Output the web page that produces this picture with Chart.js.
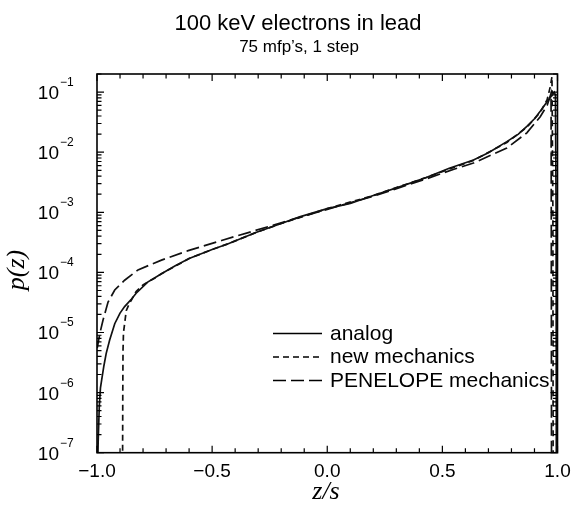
<!DOCTYPE html>
<html>
<head>
<meta charset="utf-8">
<script src="https://cdn.jsdelivr.net/npm/chart.js@4"></script>
<style>
  body { margin: 0; background: #fff; }
  canvas { display: block; }
</style>
</head>
<body>
<canvas id="grafico" width="572" height="506"></canvas>
<script>
// values
const seriesNames = ["analog", "new mechanics", "PENELOPE mechanics"];

const zAnalog = [-0.997, -0.995, -0.990, -0.985, -0.978, -0.970, -0.960, -0.945, -0.923, -0.900, -0.880, -0.850, -0.830, -0.780, -0.720, -0.660, -0.600, -0.500, -0.430, -0.310, -0.200, -0.120, 0.000, 0.100, 0.200, 0.320, 0.430, 0.530, 0.635, 0.700, 0.780, 0.830, 0.867, 0.900, 0.925, 0.950, 0.976, 0.986, 0.991, 0.994, 0.995];
const pAnalog = [5e-8, 1.5e-7, 6e-7, 1.2e-6, 1.8e-6, 2.8e-6, 4.5e-6, 7.5e-6, 1.4e-5, 2.1e-5, 2.7e-5, 3.6e-5, 4.5e-5, 6.9e-5, 9.5e-5, 1.29e-4, 1.7e-4, 2.4e-4, 3.0e-4, 4.6e-4, 6.5e-4, 8.4e-4, 1.15e-3, 1.4e-3, 1.9e-3, 2.7e-3, 3.8e-3, 5.4e-3, 7.4e-3, 9.8e-3, 1.5e-2, 2.0e-2, 2.7e-2, 3.6e-2, 4.8e-2, 6.5e-2, 8.9e-2, 1.0e-1, 9e-2, 1e-3, 5e-8];

const zNew = [-0.889, -0.888, -0.887, -0.885, -0.880, -0.873, -0.860, -0.850, -0.830, -0.800, -0.750, -0.720, -0.600, -0.500, -0.430, -0.310, -0.200, 0.000, 0.200, 0.430, 0.635, 0.780, 0.867, 0.925, 0.955, 0.968, 0.976, 0.980, 0.981];
const pNew = [5e-8, 1e-6, 5e-6, 1e-5, 1.4e-5, 2.3e-5, 3.0e-5, 3.5e-5, 4.8e-5, 6.2e-5, 8.0e-5, 9.5e-5, 1.7e-4, 2.4e-4, 3.0e-4, 4.6e-4, 6.5e-4, 1.15e-3, 1.9e-3, 3.8e-3, 7.3e-3, 1.45e-2, 2.6e-2, 4.6e-2, 7.5e-2, 1.2e-1, 1.8e-1, 1e-3, 5e-8];

const zPen = [-0.999, -0.988, -0.974, -0.952, -0.923, -0.880, -0.822, -0.720, -0.604, -0.459, -0.343, -0.200, 0.000, 0.200, 0.430, 0.550, 0.635, 0.780, 0.867, 0.925, 0.955, 0.972, 0.973, 0.974];
const pPen = [5.5e-6, 9.5e-6, 1.6e-5, 3.2e-5, 5.1e-5, 7.4e-5, 1.1e-4, 1.6e-4, 2.3e-4, 3.4e-4, 4.6e-4, 6.7e-4, 1.12e-3, 1.85e-3, 3.6e-3, 5.2e-3, 6.6e-3, 1.17e-2, 2.1e-2, 3.9e-2, 6.0e-2, 9.5e-2, 1e-3, 5e-8];

const xTickValues = [-1, -0.5, 0, 0.5, 1];
const xTickLabels = ["\u22121.0", "\u22120.5", "0.0", "0.5", "1.0"];
const yTickExponents = [-7, -6, -5, -4, -3, -2, -1];

const sans = '"Liberation Sans", Arial, sans-serif';
const serif = '"Liberation Serif", "Times New Roman", serif';

function pontos(zs, ps) {
  return zs.map((z, i) => ({ x: z, y: ps[i] }));
}

const estilos = [[], [6, 4], [13, 5]];

const molduraPlugin = {
  id: "moldura",
  afterDraw(chart) {
    const ctx = chart.ctx;
    const a = chart.chartArea;
    const sx = chart.scales.x;
    const sy = chart.scales.y;
    ctx.save();
    ctx.strokeStyle = "#000";
    ctx.fillStyle = "#000";

    // frame
    ctx.lineWidth = 1.6;
    ctx.strokeRect(a.left, a.top, a.right - a.left, a.bottom - a.top);

    // x ticks, bottom and top, pointing inward
    ctx.lineWidth = 1.2;
    for (let i = -10; i <= 10; i++) {
      const v = i / 10;
      const px = sx.getPixelForValue(v);
      const len = (i % 5 === 0) ? 7 : 4.5;
      ctx.beginPath();
      ctx.moveTo(px, a.bottom); ctx.lineTo(px, a.bottom - len);
      ctx.moveTo(px, a.top); ctx.lineTo(px, a.top + len);
      ctx.stroke();
    }

    // y ticks, left and right
    for (let e = -7; e <= -1; e++) {
      for (let k = 1; k <= 9; k++) {
        const v = k * Math.pow(10, e);
        if (v > sy.max) continue;
        const py = sy.getPixelForValue(v);
        const len = k === 1 ? 7 : 4.5;
        ctx.beginPath();
        ctx.moveTo(a.left, py); ctx.lineTo(a.left + len, py);
        ctx.moveTo(a.right, py); ctx.lineTo(a.right - len, py);
        ctx.stroke();
      }
    }

    // x tick labels
    ctx.font = "19px " + sans;
    ctx.textAlign = "center";
    ctx.textBaseline = "alphabetic";
    xTickValues.forEach((v, i) => {
      ctx.fillText(xTickLabels[i], sx.getPixelForValue(v), 477);
    });

    // y tick labels 10^n
    yTickExponents.forEach(e => {
      const py = sy.getPixelForValue(Math.pow(10, e));
      ctx.font = "12px " + sans;
      ctx.textAlign = "left";
      const expo = "\u2212" + Math.abs(e);
      ctx.fillText(expo, 60, py - 6);
      ctx.font = "19px " + sans;
      ctx.textAlign = "right";
      ctx.fillText("10", 59, py + 7);
    });

    // titles
    ctx.textAlign = "center";
    ctx.font = "22px " + sans;
    ctx.fillText("100 keV electrons in lead", 298, 30);
    ctx.font = "17px " + sans;
    ctx.fillText("75 mfp\u2019s, 1 step", 299, 52);

    // axis titles
    ctx.font = "italic 26px " + serif;
    ctx.fillText("z/s", 326, 499);
    ctx.save();
    ctx.translate(24, 270);
    ctx.rotate(-Math.PI / 2);
    ctx.fillText("p(z)", 0, 0);
    ctx.restore();

    // legend inside the plot
    const linhasY = [333.5, 357, 380.5];
    ctx.font = "21px " + sans;
    ctx.textAlign = "left";
    ctx.lineWidth = 1.7;
    seriesNames.forEach((nome, i) => {
      ctx.setLineDash(estilos[i]);
      ctx.beginPath();
      ctx.moveTo(273, linhasY[i]);
      ctx.lineTo(322, linhasY[i]);
      ctx.stroke();
      ctx.setLineDash([]);
      ctx.fillText(nome, 330, linhasY[i] + 6);
    });
    ctx.restore();
  }
};

const ctx = document.getElementById("grafico").getContext("2d");
new Chart(ctx, {
  type: "line",
  data: {
    datasets: [
      { label: seriesNames[0], data: pontos(zAnalog, pAnalog), borderDash: estilos[0] },
      { label: seriesNames[1], data: pontos(zNew, pNew), borderDash: estilos[1] },
      { label: seriesNames[2], data: pontos(zPen, pPen), borderDash: estilos[2] }
    ].map(d => Object.assign(d, {
      borderColor: "#111",
      borderWidth: 1.7,
      pointRadius: 0,
      tension: 0,
      fill: false
    }))
  },
  options: {
    responsive: false,
    animation: false,
    devicePixelRatio: 1,
    layout: { padding: { left: 97, right: 14.5, top: 74, bottom: 53.3 } },
    scales: {
      x: { type: "linear", min: -1, max: 1, display: false },
      y: { type: "logarithmic", min: 1e-7, max: 0.2, display: false }
    },
    plugins: {
      legend: { display: false },
      tooltip: { enabled: false }
    }
  },
  plugins: [molduraPlugin]
});
</script>
</body>
</html>
